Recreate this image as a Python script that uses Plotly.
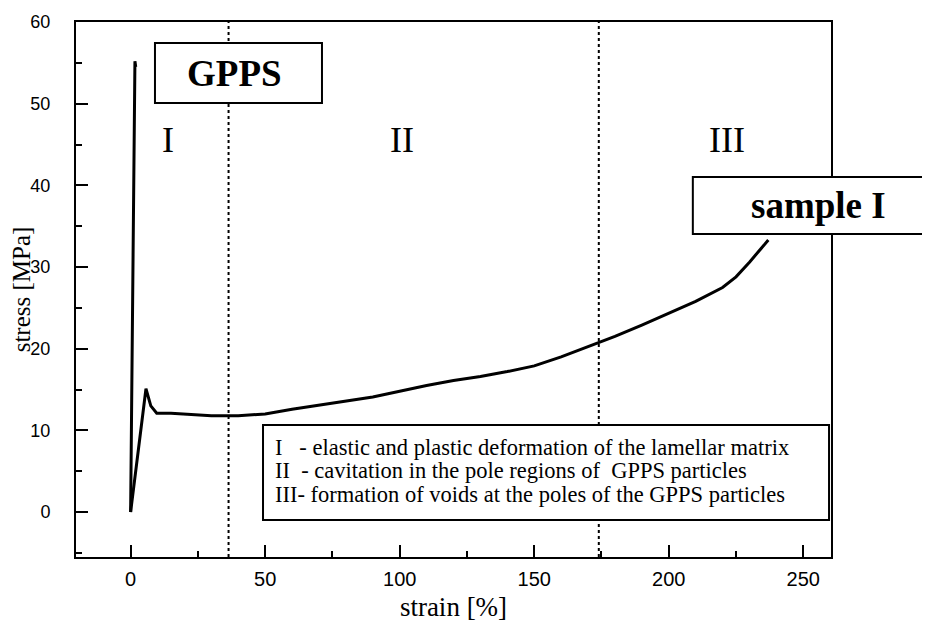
import plotly.graph_objects as go

# ---- data ----
gpps_strain = [0.0, 0.6, 1.2, 1.6, 1.9]
gpps_stress = [0.0, 20.0, 42.0, 55.2, 54.5]

sample_strain = [0.0, 3.0, 5.7, 7.5, 9.7, 15, 20, 30, 40, 50, 60, 70, 80, 90, 100,
                 110, 120, 130, 140, 150, 160, 170, 180, 190, 200, 210, 220, 225, 230, 237]
sample_stress = [0.0, 8.0, 15.1, 13.0, 12.1, 12.1, 12.0, 11.8, 11.8, 12.0, 12.6, 13.1, 13.6, 14.1, 14.8,
                 15.5, 16.1, 16.6, 17.2, 17.9, 19.0, 20.2, 21.5, 22.9, 24.4, 25.8, 27.5, 28.8, 30.6, 33.3]

region_bounds = [36.4, 174.0]
region_labels = ["I", "II", "III"]
region_label_x = [13.9, 100.9, 221.7]
region_label_y = 45.6

x_ticks = [0, 50, 100, 150, 200, 250]
y_ticks = [0, 10, 20, 30, 40, 50, 60]

legend_lines = [
    "I   - elastic and plastic deformation of the lamellar matrix",
    "II  - cavitation in the pole regions of  GPPS particles",
    "III- formation of voids at the poles of the GPPS particles",
]

serif = "Liberation Serif, Times New Roman, serif"
sans = "Liberation Sans, Arial, sans-serif"

fig = go.Figure()

for xb in region_bounds:
    fig.add_trace(go.Scatter(x=[xb, xb], y=[-5.5, 60], mode="lines",
                             line=dict(color="black", width=2, dash="dot"),
                             showlegend=False, hoverinfo="skip"))

fig.add_trace(go.Scatter(x=gpps_strain, y=gpps_stress, mode="lines",
                         line=dict(color="black", width=3), showlegend=False))
fig.add_trace(go.Scatter(x=sample_strain, y=sample_stress, mode="lines",
                         line=dict(color="black", width=3), showlegend=False))

# boxes (paper coords)
boxes = [
    (0.1046, 0.8486, 0.3258, 0.9607),
    (0.817, 0.6037, 1.128, 0.7103),
    (0.2477, 0.0692, 0.9974, 0.2467),
]
for x0, y0, x1, y1 in boxes:
    fig.add_shape(type="rect", xref="paper", yref="paper", x0=x0, y0=y0, x1=x1, y1=y1,
                  line=dict(color="black", width=2), fillcolor="white", layer="above")

fig.add_annotation(x=(234 - 76) / 755, y=(0.8486 + 0.9607) / 2, xref="paper", yref="paper",
                   text="<b>GPPS</b>", showarrow=False, xanchor="center", yanchor="middle",
                   font=dict(family=serif, size=37, color="black"))
fig.add_annotation(x=(818 - 76) / 755, y=(0.6037 + 0.7103) / 2, xref="paper", yref="paper",
                   text="<b>sample I</b>", showarrow=False, xanchor="center", yanchor="middle",
                   font=dict(family=serif, size=37, color="black"))

for lab, lx in zip(region_labels, region_label_x):
    fig.add_annotation(x=lx, y=region_label_y, xref="x", yref="y", text=lab, showarrow=False,
                       xanchor="center", yanchor="middle",
                       font=dict(family=serif, size=36, color="black"))

legend_y = [(557 - 447) / 535, (557 - 470) / 535, (557 - 494) / 535]
for txt, ly in zip(legend_lines, legend_y):
    fig.add_annotation(x=(273 - 76) / 755, y=ly, xref="paper", yref="paper", text=txt,
                       showarrow=False, xanchor="left", yanchor="middle",
                       font=dict(family=serif, size=22.5, color="black"))

# page body has an 8px margin: figure sized so the plot area lands where the reference has it
fig.update_layout(
    width=922, height=620,
    margin=dict(l=68, r=99, t=14, b=71),
    paper_bgcolor="white", plot_bgcolor="white",
    showlegend=False,
)
fig.update_xaxes(range=[-20.3, 260.3], tickvals=x_ticks, ticks="inside", ticklen=12,
                 tickwidth=1.5, tickcolor="black", automargin=False,
                 minor=dict(dtick=25, tick0=0, ticks="inside", ticklen=6, tickwidth=1.5, tickcolor="black"),
                 showline=True, linewidth=2, linecolor="black", mirror=True, showgrid=False,
                 zeroline=False, tickfont=dict(family=sans, size=20, color="black"),
                 ticklabelstandoff=3,
                 title=dict(text="strain [%]", font=dict(family=serif, size=27, color="black"), standoff=8))
fig.update_yaxes(range=[-5.5, 60], tickvals=y_ticks, ticks="inside", ticklen=12,
                 tickwidth=1.5, tickcolor="black", automargin=False,
                 minor=dict(dtick=5, tick0=0, ticks="inside", ticklen=6, tickwidth=1.5, tickcolor="black"),
                 showline=True, linewidth=2, linecolor="black", mirror=True, showgrid=False,
                 zeroline=False, tickfont=dict(family=sans, size=18, color="black"),
                 ticklabelstandoff=20,
                 title=dict(text="stress [MPa]", font=dict(family=serif, size=25, color="black"), standoff=14))

fig.write_html("out.html")
